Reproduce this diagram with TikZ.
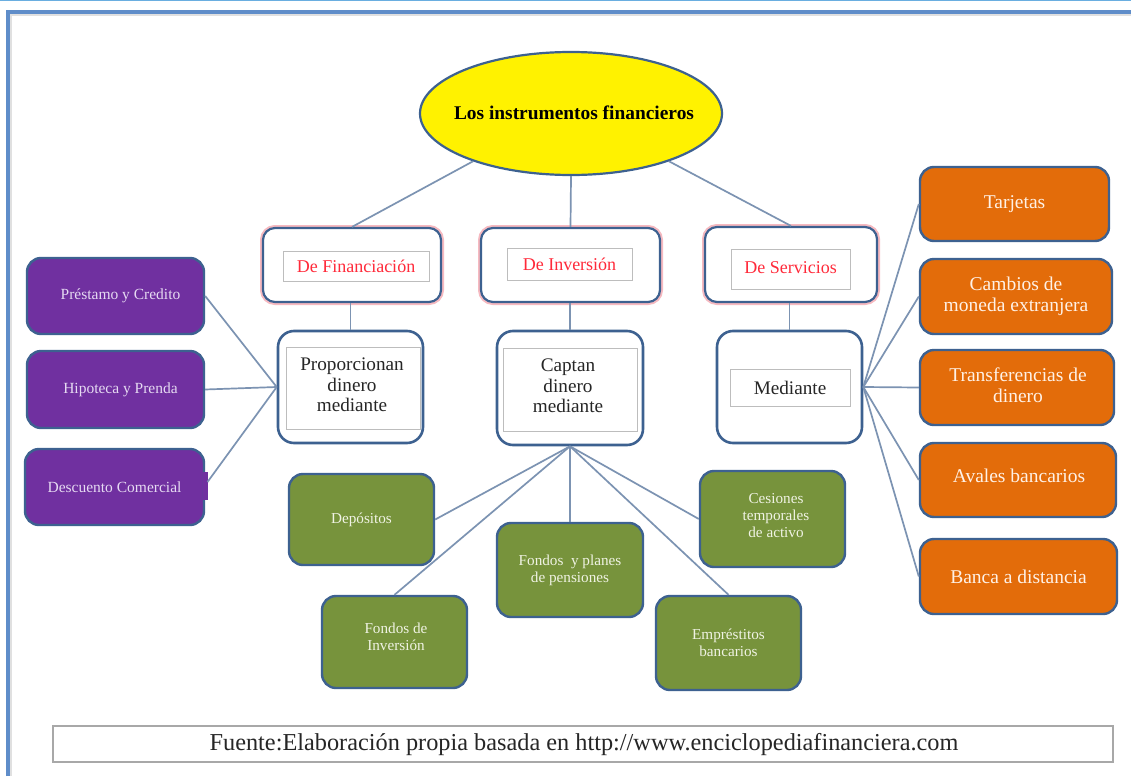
\documentclass[tikz,border=0pt]{standalone}
\usepackage{fontspec}
\setmainfont{Liberation Serif}
\usetikzlibrary{shapes.geometric}
\definecolor{bdr}{HTML}{3D6190}
\definecolor{connc}{HTML}{7C93B2}
\definecolor{framec}{HTML}{5F8DC9}
\definecolor{topc}{HTML}{6AAEE0}
\definecolor{redt}{HTML}{FF2A3A}
\definecolor{glow}{HTML}{F6B9C0}
\definecolor{innerc}{HTML}{BDBDBD}
\definecolor{purplec}{HTML}{7030A0}
\definecolor{purplet}{HTML}{E6DAF2}
\definecolor{greenc}{HTML}{77933C}
\definecolor{greent}{HTML}{F0F3E4}
\definecolor{orangec}{HTML}{E36C0A}
\definecolor{oranget}{HTML}{FFF1E6}
\definecolor{footc}{HTML}{A8A8A8}
\tikzset{
  catbox/.style={draw=bdr, line width=2.2pt, fill=white, rounded corners=12pt, inner sep=0pt,
    preaction={draw=glow, line width=6pt}},
  midbox/.style={draw=bdr, line width=2.6pt, fill=white, rounded corners=16pt, inner sep=0pt},
  innerbox/.style={draw=innerc, line width=0.9pt, fill=white, inner sep=0pt, align=center},
  redtext/.style={text=redt, font=\fontsize{18}{20}\selectfont},
  midtext/.style={text=black!85, font=\fontsize{19.2}{20.5}\selectfont},
  leafbox/.style={draw=bdr, line width=2.4pt, rounded corners=14pt, inner sep=0pt, align=center},
  purplebox/.style={leafbox, fill=purplec, text=purplet, font=\fontsize{15.5}{17}\selectfont},
  greenbox/.style={leafbox, fill=greenc, text=greent, font=\fontsize{15.2}{17}\selectfont},
  orangebox/.style={leafbox, fill=orangec, text=oranget, font=\fontsize{19.5}{21}\selectfont},
  conn/.style={draw=connc, line width=1.7pt},
}
\begin{document}
\begin{tikzpicture}[x=1pt,y=-1pt]
\useasboundingbox (0,0) rectangle (1131,776);
\fill[white] (0,0) rectangle (1131,776);
% page frame
\draw[topc, line width=1.2pt] (0,0.6) -- (1131,0.6);
\draw[black!12, line width=2pt] (11,776) -- (11,15.5) -- (1131,15.5);
\draw[framec, line width=4pt] (8,776) -- (8,12.5) -- (1131,12.5);

% root
\node[ellipse, draw=bdr, line width=2.2pt, fill=yellow, minimum width=302pt, minimum height=123pt, inner sep=0pt] (root) at (571,113.5) {};
\node[font=\bfseries\fontsize{19.4}{20}\selectfont, inner sep=0pt] (rootlbl) at (574,113) {Los instrumentos financieros};

% category boxes
\node[catbox, minimum width=178pt, minimum height=74pt] (cf) at (352,265) {};
\node[catbox, minimum width=179pt, minimum height=74pt] (ci) at (570.5,265) {};
\node[catbox, minimum width=172pt, minimum height=75pt] (cs) at (791,264.5) {};
\node[innerbox, redtext, minimum width=146pt, minimum height=30pt] (cfi) at (356,266) {De Financiación};
\node[innerbox, redtext, minimum width=125pt, minimum height=32pt] (cii) at (569.5,264) {De Inversión};
\node[innerbox, redtext, minimum width=119pt, minimum height=40pt] (csi) at (790.5,269) {\raisebox{2pt}{De Servicios}};

% second level boxes
\node[midbox, minimum width=145pt, minimum height=112pt] (sf) at (350.5,387) {};
\node[midbox, minimum width=146pt, minimum height=114pt] (si) at (570,388) {};
\node[midbox, minimum width=145pt, minimum height=112pt] (ss) at (789.5,387) {};
\node[innerbox, midtext, minimum width=134pt, minimum height=82pt] (sfi) at (353,388) {};
\node[midtext, align=center, inner sep=0pt] (sft) at (352,385) {Proporcionan\\dinero\\mediante};
\node[innerbox, midtext, minimum width=134pt, minimum height=83pt] (sii) at (570,389.5) {};
\node[midtext, align=center, inner sep=0pt] (sit) at (568,386) {Captan\\dinero\\mediante};
\node[innerbox, midtext, minimum width=120pt, minimum height=37pt] (ssi) at (790,387.5) {Mediante};

% purple leaves
\node[purplebox, minimum width=177pt, minimum height=76pt] (p1) at (115.5,296) {\hspace*{10pt}Préstamo y Credito};
\node[purplebox, minimum width=177pt, minimum height=77pt] (p2) at (115.5,389.5) {\hspace*{10pt}Hipoteca y Prenda};
\node[purplebox, minimum width=179pt, minimum height=76pt] (p3) at (114.5,487) {Descuento Comercial};
\fill[purplec] (202.5,472) rectangle (207.5,500);

% green leaves
\node[greenbox, minimum width=145pt, minimum height=91pt] (g1) at (361.5,519.5) {Depósitos};
\node[greenbox, minimum width=145pt, minimum height=92pt] (g2) at (394.5,642) {};
\node[text=greent, font=\fontsize{15.2}{17}\selectfont, align=center, inner sep=0pt] (g2t) at (396,637) {Fondos de\\Inversión};
\node[greenbox, minimum width=146pt, minimum height=94pt] (g3) at (570,570) {Fondos\ \ y planes\\de pensiones};
\node[greenbox, minimum width=145pt, minimum height=96pt] (g4) at (772.5,519) {};
\node[text=greent, font=\fontsize{15.2}{17}\selectfont, align=center, inner sep=0pt] (g4t) at (776,516) {Cesiones\\temporales\\de activo};
\node[greenbox, minimum width=145pt, minimum height=94pt] (g5) at (728.5,643) {Empréstitos\\bancarios};

% orange leaves
\node[orangebox, minimum width=189pt, minimum height=74pt] (o1) at (1014.5,204) {Tarjetas};
\node[orangebox, minimum width=192pt, minimum height=75pt] (o2) at (1016,296.5) {Cambios de\\moneda extranjera};
\node[orangebox, minimum width=194pt, minimum height=75pt] (o3) at (1017,387.5) {};
\node[text=oranget, font=\fontsize{19.5}{21}\selectfont, align=center, inner sep=0pt] (o3t) at (1018,385.5) {Transferencias de\\dinero};
\node[orangebox, minimum width=196pt, minimum height=74pt] (o4) at (1018,480) {};
\node[text=oranget, font=\fontsize{19.5}{21}\selectfont, inner sep=0pt] (o4t) at (1019,476) {Avales bancarios};
\node[orangebox, minimum width=197pt, minimum height=75pt] (o5) at (1018.5,576.5) {Banca a distancia};

% footer
\node[draw=footc, line width=1.2pt, fill=white, minimum width=1060pt, minimum height=36pt, inner sep=0pt] (foot) at (583,744) {};
\node[font=\fontsize{24.3}{26}\selectfont, text=black!85, inner sep=0pt] (foottxt) at (584,745)
  {Fuente:Elaboración propia basada en http://www.enciclopediafinanciera.com};

% connectors
\draw[conn] (root.206) -- (cf.north);
\draw[conn] (root.south) -- (ci.north);
\draw[conn] (root.334) -- (cs.north);
\draw[conn] (sf.north) -- (sf.north |- cf.south);
\draw[conn] (si.north) -- (si.north |- ci.south);
\draw[conn] (ss.north) -- (ss.north |- cs.south);
\draw[conn] (p1.east) -- (sf.west);
\draw[conn] (p2.east) -- (sf.west);
\draw[conn] (207.5,482) -- (sf.west);
\draw[conn] (si.south) -- (g1.east);
\draw[conn] (si.south) -- (g2.north);
\draw[conn] (si.south) -- (g3.north);
\draw[conn] (si.south) -- (g4.west);
\draw[conn] (si.south) -- (g5.north);
\draw[conn] (ss.east) -- (o1.west);
\draw[conn] (ss.east) -- (o2.west);
\draw[conn] (ss.east) -- (o3.west);
\draw[conn] (ss.east) -- (o4.west);
\draw[conn] (ss.east) -- (o5.west);
\end{tikzpicture}
\end{document}
